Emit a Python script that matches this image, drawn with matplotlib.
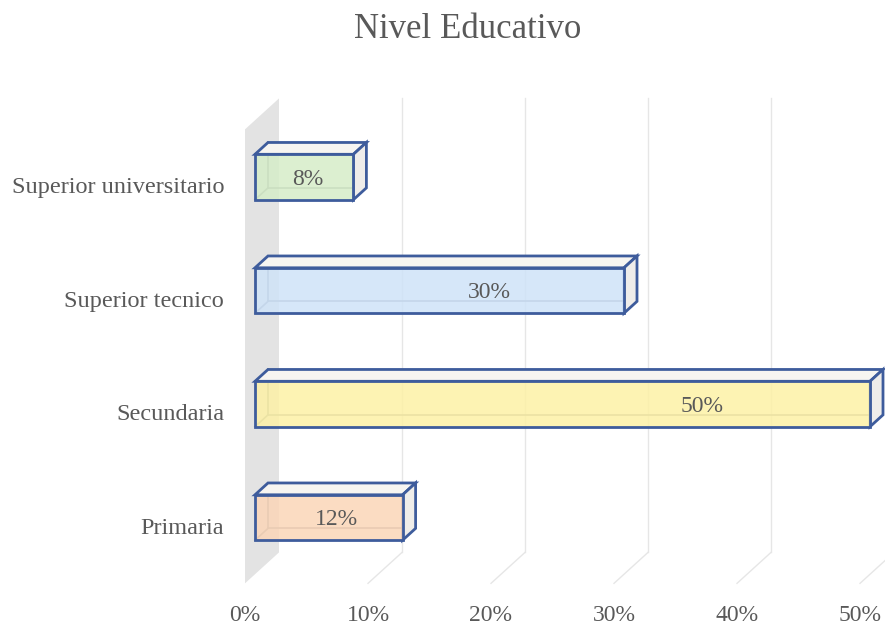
import numpy as np
import matplotlib.pyplot as plt
from matplotlib.patches import Polygon

# Datos
categorias = ['Primaria', 'Secundaria', 'Superior tecnico', 'Superior universitario']
valores = [12, 50, 30, 8]
colores = ['#fbd6b8', '#fdf1a6', '#cfe3f8', '#d6edc8']
ticks = [0, 10, 20, 30, 40, 50]
titulo = 'Nivel Educativo'

gris_txt = '#595959'
borde = '#3e5c9c'

plt.rcParams['font.family'] = ['Liberation Serif', 'DejaVu Serif']

W, H = 885, 626
fig = plt.figure(figsize=(W / 100, H / 100), dpi=100)
ax = fig.add_axes([255 / W, (H - 574.25) / H, 615 / W, 454 / H])
ax.set_xlim(0, 50)
ax.set_ylim(-0.5, 3.5)
ax.axis('off')

# pixeles por unidad de datos
px_x = 615 / 50
px_y = 454 / 4
k_prof = 0.91  # subida por pixel de profundidad


def p(x, y, d=0.0):
    # punto en datos desplazado en profundidad d (pixeles)
    return (x + d / px_x, y + d * k_prof / px_y)


d_fr, d_bk = -10, 24  # piso delante / pared de fondo
ymin, ymax = -0.5, 3.5

# pared lateral gris
ax.add_patch(Polygon([p(0, ymin, d_fr), p(0, ymin, d_bk), p(0, ymax, d_bk), p(0, ymax, d_fr)],
                     closed=True, facecolor='#e3e3e3', edgecolor='none', clip_on=False, zorder=0))

# rejilla: fondo y piso
for t in ticks[1:]:
    a, b = p(t, ymin, d_bk), p(t, ymax, d_bk)
    ax.plot([a[0], b[0]], [a[1], b[1]], color='#e6e6e6', lw=1, clip_on=False, zorder=0)
    c = p(t, ymin, d_fr)
    ax.plot([c[0], a[0]], [c[1], a[1]], color='#e6e6e6', lw=1, clip_on=False, zorder=0)

# etiquetas eje x
for t in ticks:
    x, y = p(t, ymin, d_fr)
    ax.text(x, y - 32 / px_y, f'{t}%', ha='center', va='center', fontsize=17, color=gris_txt,
            clip_on=False)

# barras 3D
alto = 0.4
prof = 13
for i, (v, col) in enumerate(zip(valores, colores)):
    y0, y1 = i - alto / 2, i + alto / 2
    # cara superior
    ax.add_patch(Polygon([p(0, y1), p(v, y1), p(v, y1, prof), p(0, y1, prof)], closed=True,
                         facecolor='#f7f5f1', edgecolor=borde, lw=2, zorder=2, clip_on=False))
    # cara lateral
    ax.add_patch(Polygon([p(v, y0), p(v, y1), p(v, y1, prof), p(v, y0, prof)], closed=True,
                         facecolor='#efedea', edgecolor=borde, lw=2, zorder=2, clip_on=False))
    # aristas ocultas
    for seg in ([p(0, y0, prof), p(0, y1, prof)], [p(0, y0, prof), p(v, y0, prof)],
                [p(0, y0), p(0, y0, prof)]):
        ax.plot([seg[0][0], seg[1][0]], [seg[0][1], seg[1][1]], color='#8a8f99', lw=1.2,
                zorder=1.5, clip_on=False)
    # cara frontal
    ax.add_patch(Polygon([p(0, y0), p(v, y0), p(v, y1), p(0, y1)], closed=True,
                         facecolor=col, alpha=0.85, edgecolor='none', zorder=3, clip_on=False))
    ax.add_patch(Polygon([p(0, y0), p(v, y0), p(v, y1), p(0, y1)], closed=True,
                         facecolor='none', edgecolor=borde, lw=2, zorder=4, clip_on=False))
    # etiqueta de dato
    xl = v / 2 + v ** 2 / 220
    ax.text(xl, i - 0.02, f'{v}%', ha='center', va='center', fontsize=17, color=gris_txt,
            zorder=5)

# etiquetas de categoria
for i, c in enumerate(categorias):
    x, y = p(0, i, d_fr)
    ax.text(x - 21 / px_x, y - 1.5 / px_y, c, ha='right', va='center', fontsize=17.5,
            color=gris_txt)

fig.text(468 / W, 1 - 30 / H, titulo, ha='center', va='center', fontsize=25, color=gris_txt)

fig.savefig('out.png', dpi=100)
